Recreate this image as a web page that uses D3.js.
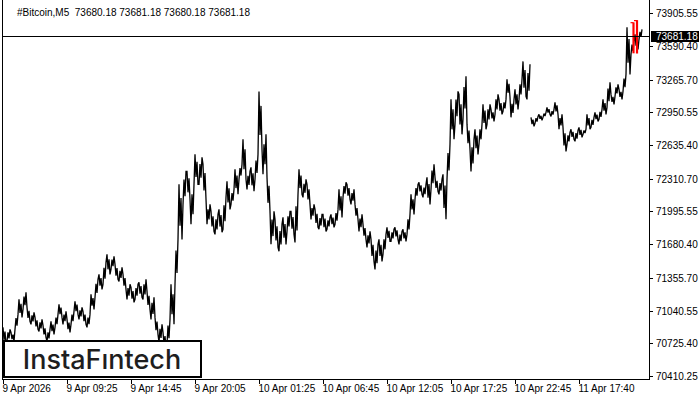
<!DOCTYPE html>
<html><head><meta charset="utf-8">
<script src="https://cdn.jsdelivr.net/npm/d3@7"></script>
<style>html,body{margin:0;padding:0;background:#fff;}svg{display:block;}</style>
</head><body>
<svg id="c" width="700" height="400"></svg>
<script>
const title = "#Bitcoin,M5  73680.18 73681.18 73680.18 73681.18";
const currentPrice = 73681.18;
const yTicks = [73905.55, 73590.40, 73265.70, 72950.55, 72635.40, 72310.70, 71995.55, 71680.40, 71355.70, 71040.55, 70725.40, 70410.25];
const xTickLabels = ["9 Apr 2026","9 Apr 09:25","9 Apr 14:45","9 Apr 20:05","10 Apr 01:25","10 Apr 06:45","10 Apr 12:05","10 Apr 17:25","10 Apr 22:45","11 Apr 17:40"];
const xTickBars = [0,64,128,192,256,320,384,448,512,576];
// sampled bars (every 4th M5 bar): bar index, high, low
const barIdx = [0,4,8,12,16,20,24,28,32,36,40,44,48,52,56,60,64,68,72,76,80,84,88,92,96,100,104,108,112,116,120,124,128,132,136,140,144,148,152,156,160,164,168,172,176,180,184,188,192,196,200,204,208,212,216,220,224,228,232,236,240,244,248,252,256,260,264,268,272,276,280,284,288,292,296,300,304,308,312,316,320,324,328,332,336,340,344,348,352,356,360,364,368,372,376,380,384,388,392,396,400,404,408,412,416,420,424,428,432,436,440,444,448,452,456,460,464,468,472,476,480,484,488,492,496,500,504,508,512,516,520,524,528,532,536,540,544,548,552,556,560,564,568,572,576,580,584,588,592,596,600,604,608,612,616,620,624,628,632,636];
const highs = [70879,70860,70831,71004,71149,71216,71072,71024,70975,70956,70898,70860,70937,71004,71101,71033,70956,71033,71130,71072,71033,71004,71197,71342,71390,71506,71583,71563,71486,71457,71390,71294,71265,71294,71313,71342,71226,71168,70975,70908,70831,70956,71294,71727,72257,72382,72382,72257,72546,72517,72450,72064,71997,71968,72016,72132,72286,72209,72402,72450,72691,72382,72421,72546,73153,72739,72325,71997,71920,71872,71939,71997,71997,72161,72402,72306,72257,72064,72016,71968,71968,71939,71968,72016,72209,72276,72257,72209,72064,71968,71872,71804,71727,71679,71727,71775,71843,71824,71843,71804,71824,71968,72161,72257,72276,72257,72325,72450,72325,72306,72354,72643,73076,73153,73124,73298,72835,72691,72788,72835,73028,73028,72980,73124,73076,73076,73269,73076,73173,73269,73442,73414,72903,72912,72932,72951,72999,72980,73047,72932,72806,72758,72788,72778,72806,72788,72932,72903,72951,72980,73076,73240,73124,73221,73173,73317,73770,73635,73703,73751];
const lows = [70715,70744,70744,70860,70975,71052,70937,70908,70860,70840,70783,70744,70812,70879,70975,70908,70831,70908,71004,70956,70908,70879,71052,71168,71245,71294,71390,71438,71342,71322,71245,71149,71120,71149,71168,71149,71052,70956,70812,70734,70686,70715,70908,71294,71727,72064,72113,71872,72257,72257,72113,71872,71804,71775,71795,71824,72016,72064,72161,72306,72306,72209,72190,72306,72594,72354,71997,71679,71650,71612,71679,71804,71775,71698,72161,72132,72064,71920,71843,71824,71804,71824,71843,71872,71939,72132,72113,72064,71920,71804,71727,71650,71515,71438,71515,71583,71708,71708,71727,71679,71708,71775,71968,72113,72161,72132,72064,72209,72190,72161,71920,72306,72691,72835,72739,72884,72594,72382,72546,72643,72788,72835,72864,72932,72932,72961,73096,72903,72980,73076,73105,73076,72816,72845,72874,72903,72932,72912,72932,72788,72575,72643,72691,72672,72710,72739,72788,72806,72864,72884,72932,72999,73028,73105,73076,73153,73317,73510,73558,73655];
const segmentStarts = [0, 132];
// last two (bearish) bars drawn in red
const redBarIdx = [630.5, 634];
const redHighs = [73818, 73840];
const redLows = [73520, 73518];
const redOpens = [73815, 73835];

const svg = d3.select("#c");
const left = 3, right = 649, bottom = 379;
const x = d3.scaleLinear().domain([0, 646]).range([left, right]);
const y = d3.scaleLinear().domain([70410.25, 73905.55]).range([376, 13.3]);
const FONT = "'Liberation Sans', Arial, sans-serif";

// price line: dense zigzag through high/low of each sampled bar (mimics 1px OHLC bars)
const segEnds = segmentStarts.slice(1).concat([barIdx.length]);
segmentStarts.forEach((s, k) => {
  const pts = [];
  for (let i = s; i < segEnds[k]; i++) {
    const x0 = x(barIdx[i]);
    const hi = y(highs[i]), lo = y(lows[i]);
    const m1 = hi + (lo - hi) * 0.25, m2 = hi + (lo - hi) * 0.75;
    if (i % 2 === 0) { pts.push([x0, hi], [x0 + 1, m2], [x0 + 2, m1], [x0 + 3, lo]); }
    else { pts.push([x0, lo], [x0 + 1, m1], [x0 + 2, m2], [x0 + 3, hi]); }
  }
  svg.append("path").attr("d", d3.line()(pts)).attr("fill", "none")
    .attr("stroke", "#000").attr("stroke-width", 1.3).attr("stroke-linejoin", "miter").attr("stroke-miterlimit", 2);
});

// red bars
redBarIdx.forEach((b, i) => {
  svg.append("line").attr("x1", x(b)).attr("x2", x(b)).attr("y1", y(redHighs[i])).attr("y2", y(redLows[i]))
    .attr("stroke", "#ff0000").attr("stroke-width", 2.2);
  svg.append("line").attr("x1", x(b) - 3).attr("x2", x(b)).attr("y1", y(redOpens[i])).attr("y2", y(redOpens[i]))
    .attr("stroke", "#ff0000").attr("stroke-width", 1.2);
});

// current price line
const cy = Math.round(y(currentPrice)) - 0.5;
svg.append("line").attr("x1", left).attr("x2", right).attr("y1", cy).attr("y2", cy)
  .attr("stroke", "#000").attr("stroke-width", 1);

// frame
svg.append("line").attr("x1", left - 0.5).attr("x2", left - 0.5).attr("y1", 0).attr("y2", bottom).attr("stroke", "#000");
svg.append("line").attr("x1", right + 0.5).attr("x2", right + 0.5).attr("y1", 0).attr("y2", bottom + 0.5).attr("stroke", "#000");
svg.append("line").attr("x1", left - 1).attr("x2", right + 1).attr("y1", bottom + 0.5).attr("y2", bottom + 0.5).attr("stroke", "#000");

// y axis
const ya = svg.append("g");
yTicks.forEach(v => {
  const yy = Math.round(y(v)) + 0.5;
  ya.append("line").attr("x1", right + 1).attr("x2", right + 4).attr("y1", yy).attr("y2", yy).attr("stroke", "#000");
  ya.append("text").attr("x", 656).attr("y", yy + 3.5).attr("font-family", FONT).attr("font-size", 10)
    .attr("fill", "#000").text(v.toFixed(2));
});
// current price box
svg.append("rect").attr("x", 651).attr("y", cy - 5.5).attr("width", 48).attr("height", 11).attr("fill", "#000");
svg.append("text").attr("x", 656).attr("y", cy + 3.5).attr("font-family", FONT).attr("font-size", 10)
  .attr("fill", "#fff").text(currentPrice.toFixed(2));

// x axis
xTickBars.forEach((b, i) => {
  const xx = Math.round(x(b)) + 0.5;
  svg.append("line").attr("x1", xx).attr("x2", xx).attr("y1", bottom).attr("y2", bottom + 5).attr("stroke", "#000");
  svg.append("text").attr("x", xx - 1).attr("y", 392).attr("font-family", FONT).attr("font-size", 10)
    .attr("fill", "#000").text(xTickLabels[i]);
});

// title
svg.append("text").attr("x", 17).attr("y", 15.5).attr("font-family", FONT).attr("font-size", 10)
  .attr("fill", "#000").attr("xml:space", "preserve").style("white-space", "pre").text(title);

// logo
svg.append("rect").attr("x", 4).attr("y", 341).attr("width", 197).attr("height", 36)
  .attr("fill", "#fff").attr("stroke", "#000").attr("stroke-width", 2);
svg.append("text").attr("x", 102).attr("y", 369).attr("text-anchor", "middle")
  .attr("font-family", "Inter, 'Open Sans', sans-serif").attr("font-weight", 500).attr("font-size", 27)
  .attr("fill", "#1e1e1e").text("InstaF\u0131ntech");
</script>
</body></html>
